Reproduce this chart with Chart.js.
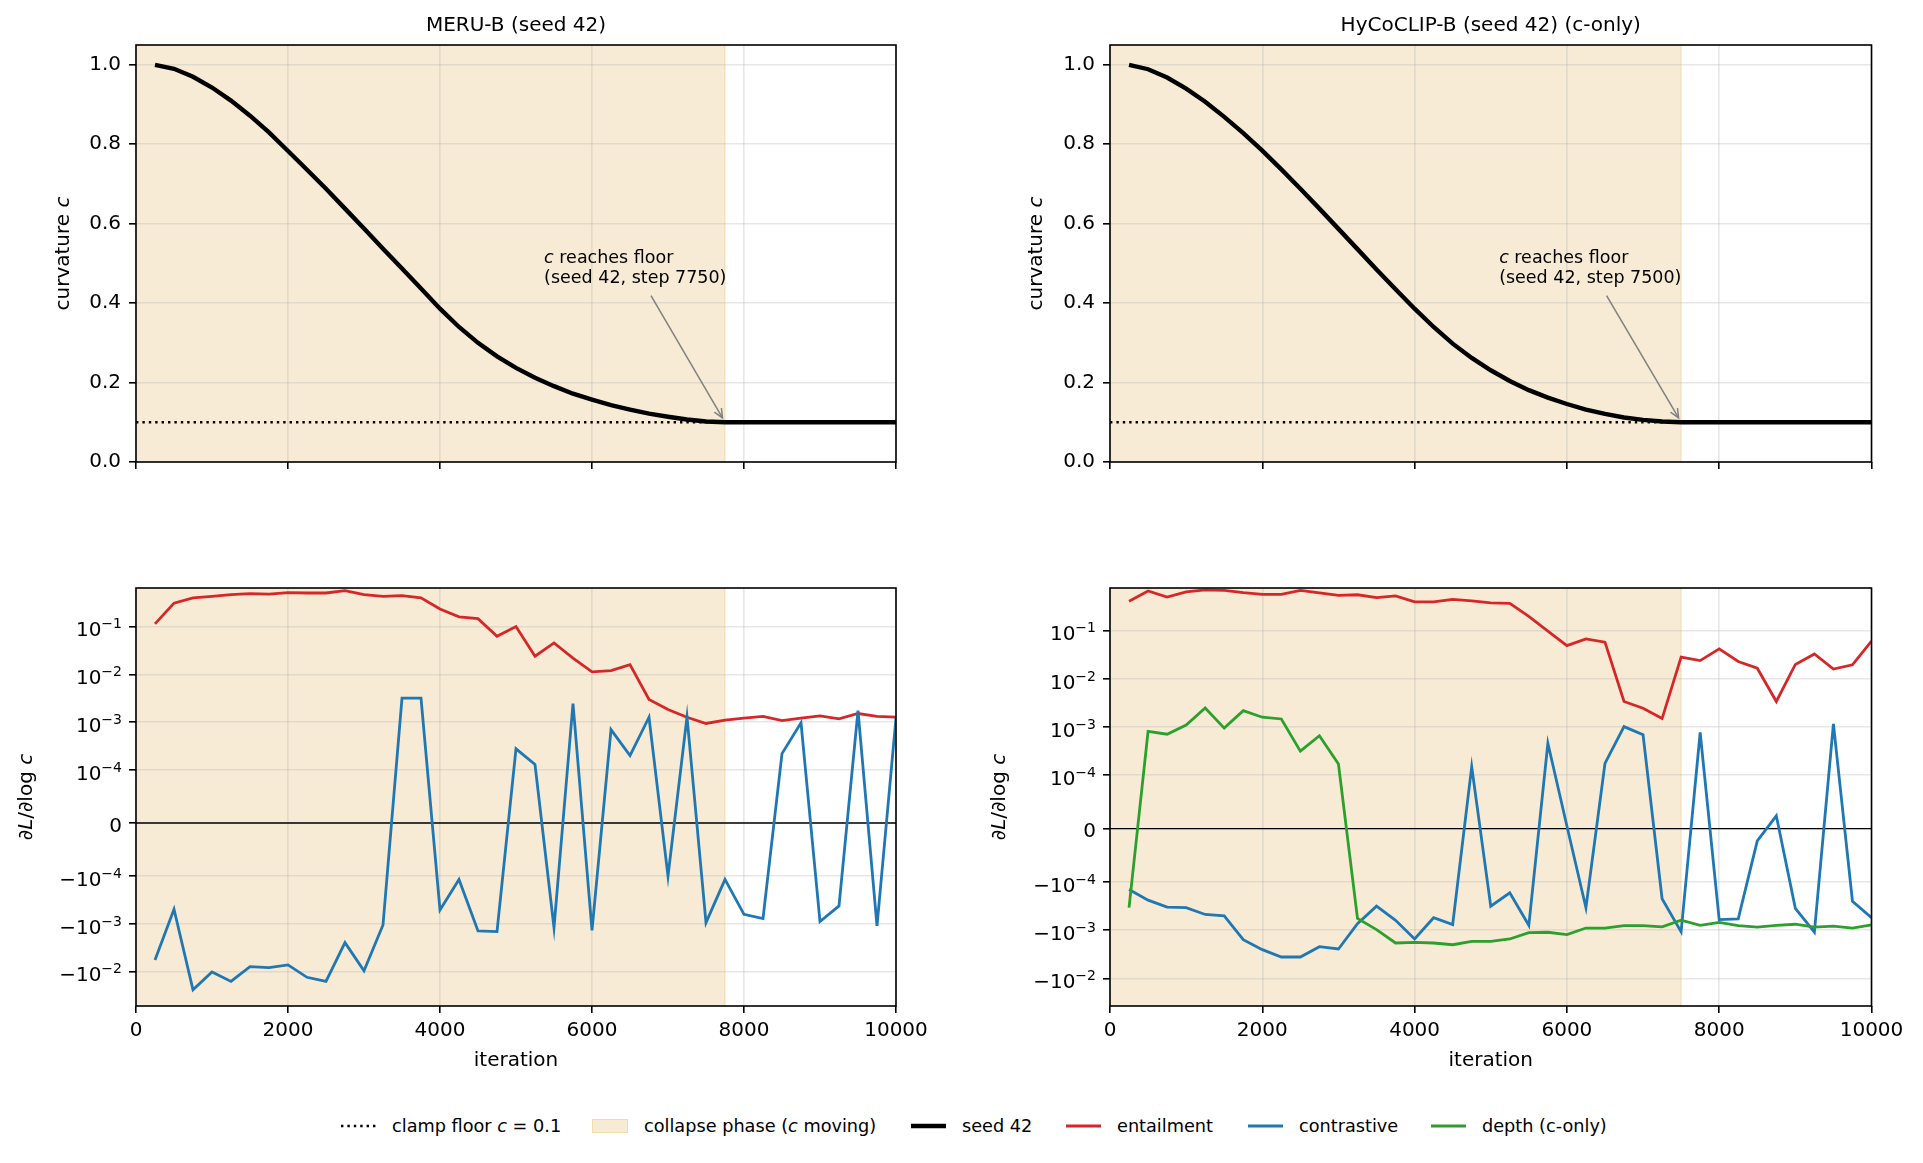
<!DOCTYPE html>
<html>
<head>
<meta charset="utf-8">
<script src="https://cdn.jsdelivr.net/npm/chart.js@4.4.1/dist/chart.umd.min.js"></script>
<style>
  html, body { margin: 0; padding: 0; background: #fff; }
  body { width: 1923px; height: 1163px; position: relative; overflow: hidden; font-family: "DejaVu Sans", sans-serif; }
  .panel { position: absolute; }
  .lg { position: absolute; top: 1112px; height: 28px; display: flex; align-items: center; font-size: 17.7px; color: #000; white-space: nowrap; }
  .lg svg { margin-right: 16px; }
</style>
</head>
<body>
<div class="panel" style="left:0;top:0;width:940px;height:480px"><canvas id="meruC"></canvas></div>
<div class="panel" style="left:980px;top:0;width:940px;height:480px"><canvas id="hycoC"></canvas></div>
<div class="panel" style="left:0;top:560px;width:940px;height:520px"><canvas id="meruG"></canvas></div>
<div class="panel" style="left:980px;top:560px;width:940px;height:520px"><canvas id="hycoG"></canvas></div>

<div class="lg" style="left:341px"><svg width="35" height="10"><line x1="0" y1="5" x2="35" y2="5" stroke="#000" stroke-width="2.4" stroke-dasharray="2.4 4"/></svg>clamp floor <i>&nbsp;c</i>&nbsp;=&nbsp;0.1</div>
<div class="lg" style="left:592px"><svg width="36" height="14"><rect x="0.5" y="0.5" width="35" height="13" fill="#f7ebd5" stroke="#f1dcb0" stroke-width="1"/></svg>collapse phase (<i>c</i>&nbsp;moving)</div>
<div class="lg" style="left:911px"><svg width="35" height="10"><line x1="0" y1="5" x2="35" y2="5" stroke="#000" stroke-width="4.4"/></svg>seed 42</div>
<div class="lg" style="left:1066px"><svg width="35" height="10"><line x1="0" y1="5" x2="35" y2="5" stroke="#d62728" stroke-width="2.8"/></svg>entailment</div>
<div class="lg" style="left:1248px"><svg width="35" height="10"><line x1="0" y1="5" x2="35" y2="5" stroke="#1f77b4" stroke-width="2.8"/></svg>contrastive</div>
<div class="lg" style="left:1431px"><svg width="35" height="10"><line x1="0" y1="5" x2="35" y2="5" stroke="#2ca02c" stroke-width="2.8"/></svg>depth (c-only)</div>

<script>
// ---- data ----
const steps = [250, 500, 750, 1000, 1250, 1500, 1750, 2000, 2250, 2500,
  2750, 3000, 3250, 3500, 3750, 4000, 4250, 4500, 4750, 5000,
  5250, 5500, 5750, 6000, 6250, 6500, 6750, 7000, 7250, 7500,
  7750, 8000, 8250, 8500, 8750, 9000, 9250, 9500, 9750, 10000];

const xTicks = [0, 2000, 4000, 6000, 8000, 10000];
const curvTicks = [0, 0.2, 0.4, 0.6, 0.8, 1.0];
const symlogTicks = [1e-1, 1e-2, 1e-3, 1e-4, 0, -1e-4, -1e-3, -1e-2];
const symlogTickLabels = ['10^\u22121', '10^\u22122', '10^\u22123', '10^\u22124', '0',
  '\u221210^\u22124', '\u221210^\u22123', '\u221210^\u22122'];

const clampFloor = 0.1;
const meruFloorStep = 7750;
const hycoFloorStep = 7500;

// curvature c (seed 42)
const meruCurv = [1.000, 0.990, 0.970, 0.943, 0.910, 0.872, 0.830, 0.783, 0.736, 0.688,
  0.638, 0.588, 0.537, 0.487, 0.437, 0.386, 0.340, 0.300, 0.266, 0.237,
  0.212, 0.191, 0.172, 0.157, 0.143, 0.132, 0.122, 0.114, 0.107, 0.102,
  0.100, 0.100, 0.100, 0.100, 0.100, 0.100, 0.100, 0.100, 0.100, 0.100];
const hycoCurv = [1.000, 0.989, 0.968, 0.940, 0.907, 0.869, 0.828, 0.784, 0.737, 0.688,
  0.638, 0.587, 0.536, 0.485, 0.435, 0.386, 0.340, 0.298, 0.262, 0.231,
  0.204, 0.181, 0.162, 0.146, 0.132, 0.121, 0.112, 0.106, 0.102, 0.100,
  0.100, 0.100, 0.100, 0.100, 0.100, 0.100, 0.100, 0.100, 0.100, 0.100];

// dL/dlog c
const meruEnt = [0.114, 0.31, 0.40, 0.43, 0.467, 0.49, 0.48, 0.514, 0.505, 0.505,
  0.566, 0.467, 0.43, 0.445, 0.40, 0.234, 0.16, 0.147, 0.063, 0.10,
  0.024, 0.0456, 0.022, 0.0113, 0.012, 0.016, 0.003, 0.00184, 0.00127, 0.00094,
  0.0011, 0.00121, 0.00132, 0.00108, 0.00121, 0.00135, 0.00117, 0.00152, 0.00132, 0.00127];
const meruCon = [-0.00566, -0.000494, -0.024, -0.0101, -0.016, -0.0078, -0.0082, -0.0072, -0.0131, -0.016,
  -0.00246, -0.0096, -0.00105, 0.00318, 0.0032, -0.00051, -0.000117, -0.0014, -0.00145, 0.000277,
  0.00013, -0.0012, 0.00246, -0.00136, 0.0007, 0.0002, 0.00127, -0.0001, 0.0013, -0.00094,
  -0.000117, -0.00063, -0.00077, 0.00022, 0.00097, -0.00089, -0.00042, 0.00175, -0.0011, 0.00123];

const hycoEnt = [0.41, 0.67, 0.50, 0.64, 0.71, 0.69, 0.62, 0.57, 0.57, 0.69,
  0.61, 0.545, 0.56, 0.49, 0.53, 0.40, 0.40, 0.45, 0.42, 0.38,
  0.37, 0.20, 0.098, 0.049, 0.068, 0.058, 0.0034, 0.00245, 0.0015, 0.0283,
  0.024, 0.042, 0.023, 0.0167, 0.0034, 0.02, 0.033, 0.016, 0.0196, 0.061];
const hycoCon = [-0.000142, -0.000237, -0.00033, -0.00034, -0.00047, -0.0005, -0.00157, -0.00253, -0.0036, -0.0036,
  -0.0022, -0.00245, -0.00073, -0.000316, -0.00062, -0.00152, -0.00055, -0.00076, 0.00015, -0.000316,
  -0.000167, -0.00079, 0.00046, 0.000005, -0.00034, 0.000175, 0.00102, 0.00069, -0.000222, -0.00108,
  0.00077, -0.0006, -0.00058, -0.000023, 0.000024, -0.00035, -0.0011, 0.00116, -0.00025, -0.00055];
const hycoDepth = [-0.00034, 0.00081, 0.00071, 0.0011, 0.00249, 0.00095, 0.00219, 0.0016, 0.00147, 0.000316,
  0.00066, 0.00017, -0.00057, -0.00097, -0.00184, -0.00178, -0.00184, -0.002, -0.0017, -0.0017,
  -0.00152, -0.00112, -0.0011, -0.00123, -0.0009, -0.0009, -0.0008, -0.0008, -0.00085, -0.00062,
  -0.00079, -0.00069, -0.0008, -0.00086, -0.00079, -0.00075, -0.00086, -0.00082, -0.0009, -0.00077];

const RED = '#d62728', BLUE = '#1f77b4', GREEN = '#2ca02c';
const SHADE = '#f7ebd5';
const GRID = 'rgba(176,176,176,0.3)';

Chart.defaults.font.family = '"DejaVu Sans"';
Chart.defaults.font.size = 20;
Chart.defaults.color = '#000';

// ---- symlog scale (linthresh 1e-4, linscale 1) ----
const LIN = 1e-4, LINSCALE = 1 / (1 - 1 / 10);
function symT(v) {
  const a = Math.abs(v);
  return a <= LIN ? v / LIN * LINSCALE : Math.sign(v) * (LINSCALE + Math.log10(a / LIN));
}
function symInv(t) {
  const a = Math.abs(t);
  return a <= LINSCALE ? t / LINSCALE * LIN : Math.sign(t) * LIN * Math.pow(10, a - LINSCALE);
}
class SymlogScale extends Chart.Scale {
  determineDataLimits() {
    this.min = this.options.min;
    this.max = this.options.max;
  }
  buildTicks() { return symlogTicks.map(v => ({value: v})); }
  getLabelForValue(v) { return String(v); }
  configure() {
    super.configure();
    this._t0 = symT(this.min);
    this._t1 = symT(this.max);
  }
  getPixelForValue(v) {
    if (v === null || v === undefined || isNaN(v)) return NaN;
    return this.getPixelForDecimal((symT(v) - this._t0) / (this._t1 - this._t0));
  }
  getValueForPixel(p) {
    return symInv(this._t0 + this.getDecimalForPixel(p) * (this._t1 - this._t0));
  }
}
SymlogScale.id = 'symlog';
SymlogScale.defaults = {};
Chart.register(SymlogScale);

// ---- helpers ----
function series(vals) { return steps.map((s, i) => ({x: s, y: vals[i]})); }
function lineDs(vals, color, width) {
  return {data: series(vals), borderColor: color, borderWidth: width, pointRadius: 0, fill: false, tension: 0};
}
function hline(y, extra) {
  return Object.assign({data: [{x: xTicks[0], y: y}, {x: xTicks[xTicks.length - 1], y: y}],
    borderColor: '#000', borderWidth: 1.5, pointRadius: 0, fill: false}, extra || {});
}

function drawRich(ctx, parts, x, y, size, align) {
  const fonts = parts.map(p => (p[1] ? 'italic ' : '') + size + 'px "DejaVu Sans"');
  const widths = parts.map((p, i) => { ctx.font = fonts[i]; return ctx.measureText(p[0]).width; });
  const total = widths.reduce((a, b) => a + b, 0);
  let cx = align === 'center' ? x - total / 2 : (align === 'right' ? x - total : x);
  ctx.textAlign = 'left';
  parts.forEach((p, i) => { ctx.font = fonts[i]; ctx.fillText(p[0], cx, y); cx += widths[i]; });
}

// extra decoration per chart
const deco = {
  meruC: {shadeTo: meruFloorStep, ytitle: [['curvature ', 0], ['c', 1]], yOff: 72,
    annot: {step: meruFloorStep, textX: 5370, textY: 0.502, fromX: 6776, fromY: 0.419}},
  hycoC: {shadeTo: hycoFloorStep, ytitle: [['curvature ', 0], ['c', 1]], yOff: 73,
    annot: {step: hycoFloorStep, textX: 5110, textY: 0.502, fromX: 6521, fromY: 0.419}},
  meruG: {shadeTo: meruFloorStep, ytitle: [['\u2202', 0], ['L', 1], ['/\u2202log ', 0], ['c', 1]], yOff: 109, symlog: true},
  hycoG: {shadeTo: hycoFloorStep, ytitle: [['\u2202', 0], ['L', 1], ['/\u2202log ', 0], ['c', 1]], yOff: 110, symlog: true}
};

const decoPlugin = {
  id: 'deco',
  beforeDraw(chart) {
    const d = deco[chart.canvas.id], a = chart.chartArea, x = chart.scales.x, ctx = chart.ctx;
    const x0 = x.getPixelForValue(0), x1 = x.getPixelForValue(d.shadeTo);
    ctx.save();
    ctx.fillStyle = SHADE;
    ctx.fillRect(x0, a.top, x1 - x0, a.bottom - a.top);
    ctx.strokeStyle = 'rgba(230,190,110,0.35)';
    ctx.lineWidth = 1.2;
    ctx.beginPath(); ctx.moveTo(x1, a.top); ctx.lineTo(x1, a.bottom); ctx.stroke();
    ctx.restore();
  },
  afterDraw(chart) {
    const d = deco[chart.canvas.id], a = chart.chartArea, ctx = chart.ctx;
    const xs = chart.scales.x, ys = chart.scales.y;
    ctx.save();
    // frame
    ctx.strokeStyle = '#000';
    ctx.lineWidth = 1.6;
    ctx.strokeRect(a.left, a.top, a.right - a.left, a.bottom - a.top);
    ctx.fillStyle = '#000';
    // y title
    ctx.save();
    ctx.translate(a.left - d.yOff, (a.top + a.bottom) / 2);
    ctx.rotate(-Math.PI / 2);
    ctx.textBaseline = 'middle';
    drawRich(ctx, d.ytitle, 0, 0, 20, 'center');
    ctx.restore();
    // symlog tick labels with superscripts
    if (d.symlog) {
      const right = a.left - 14;
      ctx.textBaseline = 'alphabetic';
      ctx.textAlign = 'right';
      symlogTicks.forEach((v, i) => {
        const py = ys.getPixelForValue(v);
        const parts = symlogTickLabels[i].split('^');
        if (parts.length === 1) {
          ctx.font = '20px "DejaVu Sans"';
          ctx.fillText(parts[0], right, py + 8.5);
          return;
        }
        ctx.font = '14px "DejaVu Sans"';
        const ew = ctx.measureText(parts[1]).width;
        ctx.fillText(parts[1], right, py + 1.6);
        ctx.font = '20px "DejaVu Sans"';
        ctx.fillText(parts[0], right - ew, py + 9.6);
      });
    }
    // annotation
    if (d.annot) {
      const an = d.annot;
      const tx = xs.getPixelForValue(an.textX), ty = ys.getPixelForValue(an.textY);
      ctx.textBaseline = 'alphabetic';
      drawRich(ctx, [['c', 1], [' reaches floor', 0]], tx, ty, 17.5, 'left');
      drawRich(ctx, [['(seed 42, step ' + an.step + ')', 0]], tx, ty + 20.5, 17.5, 'left');
      const sx = xs.getPixelForValue(an.fromX), sy = ys.getPixelForValue(an.fromY);
      const px = xs.getPixelForValue(an.step), py = ys.getPixelForValue(clampFloor);
      const dx = px - sx, dy = py - sy, len = Math.hypot(dx, dy);
      const ux = dx / len, uy = dy / len;
      const ex = px - ux * 5, ey = py - uy * 5;
      ctx.strokeStyle = '#808080';
      ctx.lineWidth = 1.5;
      ctx.beginPath(); ctx.moveTo(sx, sy); ctx.lineTo(ex, ey); ctx.stroke();
      const hl = 10, ang = 0.42, th = Math.atan2(uy, ux);
      ctx.beginPath();
      ctx.moveTo(ex - hl * Math.cos(th - ang), ey - hl * Math.sin(th - ang));
      ctx.lineTo(ex, ey);
      ctx.lineTo(ex - hl * Math.cos(th + ang), ey - hl * Math.sin(th + ang));
      ctx.stroke();
    }
    ctx.restore();
  }
};
Chart.register(decoPlugin);

function makeChart(id, o) {
  const gridOpts = {color: GRID, lineWidth: 1.6, tickColor: '#000', tickWidth: 1.6, tickLength: 7, drawTicks: true};
  const yScale = o.symlog ? {
    type: 'symlog', min: o.yMin, max: o.yMax,
    ticks: {display: false},
    grid: gridOpts, border: {display: false},
    afterFit: s => { s.width = o.yW; s.paddingTop = 0; s.paddingBottom = 0; }
  } : {
    type: 'linear', min: 0, max: 1.05,
    afterBuildTicks: s => { s.ticks = curvTicks.map(v => ({value: v})); },
    ticks: {callback: v => v.toFixed(1), font: {size: 20}, color: '#000', padding: 8},
    grid: gridOpts, border: {display: false},
    afterFit: s => { s.width = o.yW; s.paddingTop = 0; s.paddingBottom = 0; }
  };
  return new Chart(document.getElementById(id), {
    type: 'line',
    data: {datasets: o.datasets},
    options: {
      responsive: true,
      maintainAspectRatio: false,
      animation: false,
      events: [],
      layout: {padding: {left: 0, top: o.padTop, right: o.padRight, bottom: 0}},
      plugins: {
        legend: {display: false},
        tooltip: {enabled: false},
        title: o.title ? {display: true, text: o.title, fullSize: false, color: '#000',
          font: {size: 20, weight: 'normal'}, padding: {top: 14, bottom: 7}} : {display: false}
      },
      scales: {
        x: {
          type: 'linear', min: xTicks[0], max: xTicks[xTicks.length - 1],
          afterBuildTicks: s => { s.ticks = xTicks.map(v => ({value: v})); },
          ticks: {display: o.showX, callback: v => String(v), font: {size: 20}, color: '#000',
            padding: 6, maxRotation: 0, autoSkip: false},
          grid: gridOpts, border: {display: false},
          title: {display: o.showX, text: 'iteration', color: '#000', font: {size: 20},
            padding: {top: 0, bottom: 7}},
          afterFit: s => { s.height = o.xH; s.paddingLeft = 0; s.paddingRight = 0; }
        },
        y: yScale
      }
    }
  });
}

makeChart('meruC', {
  title: 'MERU-B (seed 42)', padTop: 0, padRight: 44, yW: 136, xH: 18, showX: false,
  datasets: [lineDs(meruCurv, '#000', 4.4),
    hline(clampFloor, {borderWidth: 2.4, borderDash: [2.4, 4]})]
});
makeChart('hycoC', {
  title: 'HyCoCLIP-B (seed 42) (c-only)', padTop: 0, padRight: 48.5, yW: 130, xH: 18, showX: false,
  datasets: [lineDs(hycoCurv, '#000', 4.4),
    hline(clampFloor, {borderWidth: 2.4, borderDash: [2.4, 4]})]
});
makeChart('meruG', {
  symlog: true, yMin: -0.0522, yMax: 0.643, padTop: 28, padRight: 44, yW: 136, xH: 74, showX: true,
  datasets: [lineDs(meruCon, BLUE, 2.8), lineDs(meruEnt, RED, 2.8), hline(0, {borderWidth: 1.4})]
});
makeChart('hycoG', {
  symlog: true, yMin: -0.0375, yMax: 0.774, padTop: 28, padRight: 48.5, yW: 130, xH: 74, showX: true,
  datasets: [lineDs(hycoDepth, GREEN, 2.8), lineDs(hycoCon, BLUE, 2.8), lineDs(hycoEnt, RED, 2.8),
    hline(0, {borderWidth: 1.4})]
});
</script>
</body>
</html>
